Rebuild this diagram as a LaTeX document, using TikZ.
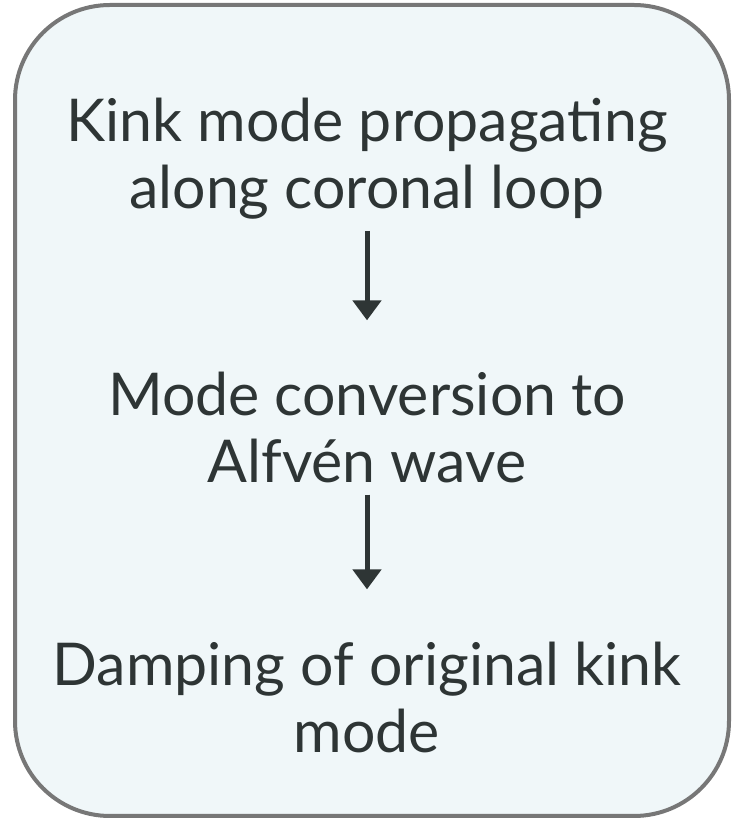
\documentclass[tikz,border=0pt]{standalone}
\usepackage{fontspec}
\setmainfont{Lato}
\usetikzlibrary{arrows.meta}
\definecolor{boxfill}{HTML}{F0F7F9}
\definecolor{boxline}{HTML}{777777}
\definecolor{ink}{HTML}{2E3535}
\tikzset{
  label/.style={text=ink, align=center, inner sep=0pt, font=\fontsize{59}{67}\selectfont},
  flow/.style={draw=ink, line width=5pt, -{Triangle[width=28pt,length=20pt]}}
}
\begin{document}
\begin{tikzpicture}[x=1pt,y=1pt]
\useasboundingbox (0,0) rectangle (739,820);
\draw[boxline, fill=boxfill, line width=4pt, rounded corners=95pt] (15,4) rectangle (729,815);
\node[label] (t1) at (367,661) {Kink mode propagating\\along coronal loop};
\node[label] (t2) at (367,392) {Mode conversion to\\Alfvén wave};
\node[label] (t3) at (367,123) {Damping of original kink\\mode};
\draw[flow] ([yshift=-11pt]t1.south) -- ([yshift=52pt]t2.north);
\draw[flow] ([yshift=-11pt]t2.south) -- ([yshift=52pt]t3.north);
\end{tikzpicture}
\end{document}
